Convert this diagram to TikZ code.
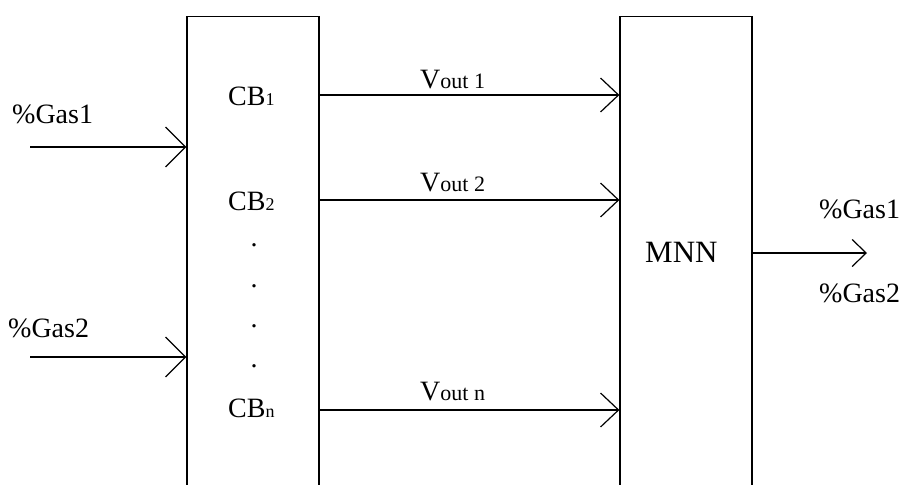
\documentclass[tikz,border=0pt]{standalone}
\usepackage{fontspec}
\setmainfont{Liberation Serif}
\usetikzlibrary{arrows.meta}
\newcommand\smallsub[1]{{\fontsize{18}{18}\selectfont #1}}
\newcommand\voutsub[1]{{\fontsize{22}{22}\selectfont #1}}
\begin{document}
\begin{tikzpicture}[x=1pt,y=-1pt,
  every node/.style={font=\fontsize{28}{33}\selectfont},
  lbl/.style={anchor=base west, inner sep=0pt},
  dotnode/.style={inner sep=0pt, anchor=center},
  blk/.style={draw, line width=1.2pt, minimum width=132pt, minimum height=540pt, inner sep=0pt, anchor=north},
  conn/.style={line width=1.2pt},
  arrG/.style={conn, -{Straight Barb[length=20pt,width=40pt]}},
  arrV/.style={conn, -{Straight Barb[length=18pt,width=34pt]}},
  arrO/.style={conn, -{Straight Barb[length=14pt,width=27pt]}}]
\useasboundingbox (0,0) rectangle (906,485);
% blocks
\node[blk] (cb) at (253,16) {};
\node[blk] (mnn) at (686,16) {};
% labels
\node[lbl] (g1in) at (12,123) {\%Gas1};
\node[lbl] (g2in) at (8,337) {\%Gas2};
\node[lbl] (cb1) at (228,105) {CB\smallsub{1}};
\node[lbl] (cb2) at (228,210) {CB\smallsub{2}};
\node[lbl] (cbn) at (228,417) {CB\smallsub{n}};
\node[dotnode] (d1) at (254,245) {.};
\node[dotnode] (d2) at (254,286) {.};
\node[dotnode] (d3) at (254,326) {.};
\node[dotnode] (d4) at (254,366) {.};
\node[lbl] (v1) at (420,88) {V\voutsub{out 1}};
\node[lbl] (v2) at (420,191) {V\voutsub{out 2}};
\node[lbl] (vn) at (420,400) {V\voutsub{out n}};
\node[lbl, font=\fontsize{31}{35}\selectfont] (mnnlbl) at (645,262) {MNN};
\node[lbl] (g1out) at (819,218) {\%Gas1};
\node[lbl] (g2out) at (819,302) {\%Gas2};
% connector ends
\coordinate (s1) at (30,147);
\coordinate (s2) at (30,357);
\coordinate (r1) at (319,95);
\coordinate (r2) at (319,200);
\coordinate (rn) at (319,410);
\coordinate (o) at (752,253);
\coordinate (oend) at (867,253);
% connectors
\draw[arrG] (s1) -- (s1 -| cb.west);
\draw[arrG] (s2) -- (s2 -| cb.west);
\draw[arrV] (r1 -| cb.east) -- (r1 -| mnn.west);
\draw[arrV] (r2 -| cb.east) -- (r2 -| mnn.west);
\draw[arrV] (rn -| cb.east) -- (rn -| mnn.west);
\draw[arrO] (o -| mnn.east) -- (oend);
\end{tikzpicture}
\end{document}
